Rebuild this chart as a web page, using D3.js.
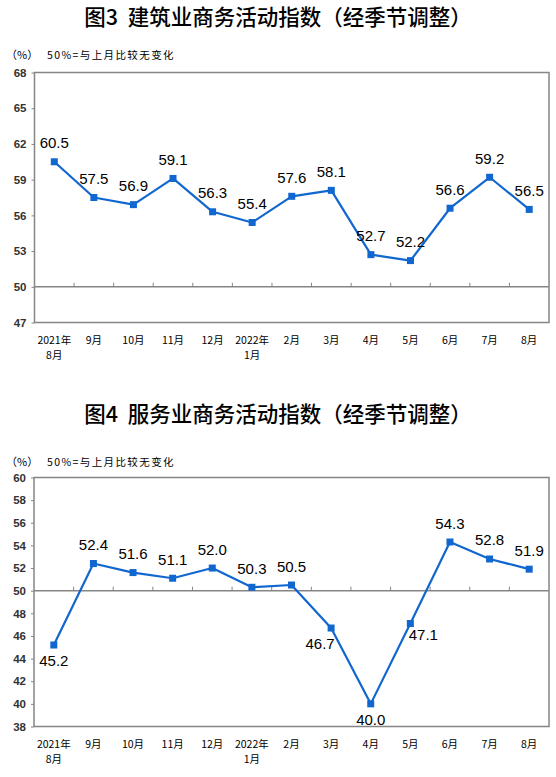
<!DOCTYPE html>
<html>
<head>
<meta charset="utf-8">
<script src="https://cdn.jsdelivr.net/npm/d3@7"></script>
<style>
  body { margin: 0; background: #fff; }
  text { fill: #000; }
</style>
</head>
<body>
<script>
// month labels, two-line ones split with "|"
const months = ["2021年|8月", "9月", "10月", "11月", "12月", "2022年|1月",
  "2月", "3月", "4月", "5月", "6月", "7月", "8月"];

const constructionIdx = [60.5, 57.5, 56.9, 59.1, 56.3, 55.4, 57.6, 58.1, 52.7, 52.2, 56.6, 59.2, 56.5];
const servicesIdx = [45.2, 52.4, 51.6, 51.1, 52.0, 50.3, 50.5, 46.7, 40.0, 47.1, 54.3, 52.8, 51.9];

const constructionTicks = [47, 50, 53, 56, 59, 62, 65, 68];
const servicesTicks = [38, 40, 42, 44, 46, 48, 50, 52, 54, 56, 58, 60];

// where each value label sits relative to its point
const constructionLabelPos = ["up", "up", "up", "up", "up", "up", "up", "up", "up", "up", "up", "up", "up"];
const servicesLabelPos = ["down", "up", "up", "up", "up", "up", "up", "downleft", "down", "downright", "up", "up", "up"];

const titles = ["图3  建筑业商务活动指数（经季节调整）", "图4  服务业商务活动指数（经季节调整）"];
const noteText = "50%=与上月比较无变化";

const W = 556, H = 777;
const svg = d3.select("body").append("svg")
    .attr("width", W)
    .attr("height", H);

const blue = "#1167d0";
const grey = "#858585";
const cjk = "'Noto Sans CJK SC', 'Noto Sans', sans-serif";
const latin = "'Liberation Sans', Arial, sans-serif";

function drawChart(cfg) {
    const g = svg.append("g");

    // title
    g.append("text")
        .attr("x", W / 2)
        .attr("y", cfg.titleY)
        .attr("text-anchor", "middle")
        .style("font-family", cjk)
        .style("font-size", "21.5px")
        .style("font-weight", "500")
        .style("white-space", "pre")
        .text(cfg.title);

    // (%) and note
    g.append("text")
        .attr("x", 6)
        .attr("y", cfg.noteY)
        .style("font-family", cjk)
        .style("font-size", "11px")
        .text("（%）");
    g.append("text")
        .attr("x", 47)
        .attr("y", cfg.noteY)
        .style("font-family", cjk)
        .style("font-size", "10.5px")
        .style("letter-spacing", "1.4px")
        .text(noteText);

    const x = d3.scaleBand()
        .domain(d3.range(months.length))
        .range([cfg.left, cfg.right]);

    const y = d3.scaleLinear()
        .domain(d3.extent(cfg.ticks))
        .range([cfg.bottom, cfg.top]);

    // plot frame
    g.append("rect")
        .attr("x", cfg.left)
        .attr("y", cfg.top)
        .attr("width", cfg.right - cfg.left)
        .attr("height", cfg.bottom - cfg.top)
        .style("fill", "none")
        .style("stroke", grey)
        .style("stroke-width", 1.5);

    // y axis
    const yAxis = g.append("g")
        .attr("transform", `translate(${cfg.left},0)`)
        .call(d3.axisLeft(y).tickValues(cfg.ticks).tickSize(3).tickPadding(5));
    yAxis.select(".domain").remove();
    yAxis.selectAll(".tick line").style("stroke", grey);
    yAxis.selectAll(".tick text")
        .style("font-family", latin)
        .style("font-size", "11.5px")
        .style("font-weight", "bold")
        .style("fill", "#333");

    // 50 line with small upward ticks
    const y50 = y(50);
    g.append("line")
        .attr("x1", cfg.left)
        .attr("x2", cfg.right)
        .attr("y1", y50)
        .attr("y2", y50)
        .style("stroke", grey)
        .style("stroke-width", 1.5);

    g.selectAll(".xtick")
        .data(d3.range(1, months.length))
        .join("line")
        .attr("x1", d => x(d))
        .attr("x2", d => x(d))
        .attr("y1", y50)
        .attr("y2", y50 - 4)
        .style("stroke", grey)
        .style("stroke-width", 1);

    // month labels
    const lab = g.selectAll(".xlab")
        .data(months)
        .join("text")
        .attr("text-anchor", "middle")
        .attr("x", (d, i) => x(i) + x.bandwidth() / 2)
        .attr("y", cfg.bottom + 21)
        .style("font-family", cjk)
        .style("font-size", "10.5px");
    lab.each(function(d) {
        const parts = d.split("|");
        const t = d3.select(this);
        parts.forEach((p, k) => {
            t.append("tspan")
                .attr("x", t.attr("x"))
                .attr("dy", k === 0 ? 0 : 15)
                .text(p);
        });
    });

    // line
    const line = d3.line()
        .x((d, i) => x(i) + x.bandwidth() / 2)
        .y(d => y(d));

    g.append("path")
        .datum(cfg.values)
        .attr("d", line)
        .style("fill", "none")
        .style("stroke", blue)
        .style("stroke-width", 2.2)
        .style("stroke-linejoin", "round");

    g.selectAll(".mark")
        .data(cfg.values)
        .join("rect")
        .attr("x", (d, i) => x(i) + x.bandwidth() / 2 - 3.5)
        .attr("y", d => y(d) - 3.5)
        .attr("width", 7)
        .attr("height", 7)
        .style("fill", blue);

    // value labels
    const offs = {
        up: [0, -13.5],
        down: [0, 21],
        downleft: [-11, 21],
        downright: [13, 16]
    };
    g.selectAll(".val")
        .data(cfg.values)
        .join("text")
        .attr("text-anchor", "middle")
        .attr("x", (d, i) => x(i) + x.bandwidth() / 2 + offs[cfg.labelPos[i]][0])
        .attr("y", (d, i) => y(d) + offs[cfg.labelPos[i]][1])
        .style("font-family", latin)
        .style("font-size", "15px")
        .text(d => d.toFixed(1));
}

drawChart({
    title: titles[0],
    titleY: 25,
    noteY: 59,
    left: 34.5,
    right: 549,
    top: 72.5,
    bottom: 322.5,
    ticks: constructionTicks,
    values: constructionIdx,
    labelPos: constructionLabelPos
});

drawChart({
    title: titles[1],
    titleY: 422,
    noteY: 466,
    left: 34,
    right: 549,
    top: 477.5,
    bottom: 726.5,
    ticks: servicesTicks,
    values: servicesIdx,
    labelPos: servicesLabelPos
});
</script>
</body>
</html>
